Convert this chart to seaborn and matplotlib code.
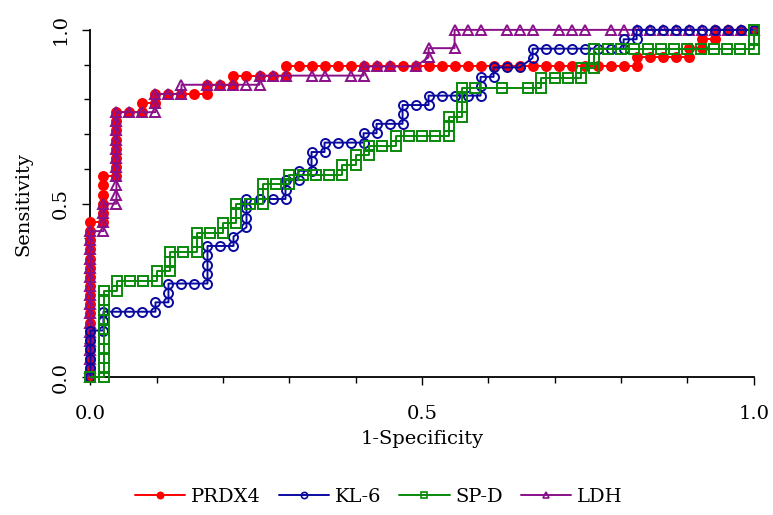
import matplotlib
matplotlib.use("Agg")
import matplotlib.pyplot as plt
from matplotlib.lines import Line2D
from matplotlib.ticker import MultipleLocator, FormatStrFormatter
import pandas as pd
import seaborn as sns

# ROC points, as (false positives, true positives) counts.
# each marker has its own number of negatives / positives
prdx4_n = (51, 38)
prdx4_pts = [(0, 0), (0, 1), (0, 2), (0, 3), (0, 4), (0, 5), (0, 6), (0, 7), (0, 8),
             (0, 9), (0, 10), (0, 11), (0, 12), (0, 13), (0, 14), (0, 15), (0, 16), (0, 17),
             (1, 17), (1, 18), (1, 19), (1, 20), (1, 21), (1, 22),
             (2, 22), (2, 23), (2, 24), (2, 25), (2, 26), (2, 27), (2, 28), (2, 29),
             (3, 29), (4, 29), (4, 30), (5, 30), (5, 31), (6, 31), (7, 31), (8, 31), (9, 31),
             (9, 32), (10, 32), (11, 32), (11, 33), (12, 33), (13, 33), (14, 33), (15, 33),
             (15, 34), (16, 34), (17, 34), (18, 34), (19, 34), (20, 34), (21, 34), (22, 34),
             (23, 34), (24, 34), (25, 34), (26, 34), (27, 34), (28, 34), (29, 34), (30, 34),
             (31, 34), (32, 34), (33, 34), (34, 34), (35, 34), (36, 34), (37, 34), (38, 34),
             (39, 34), (40, 34), (41, 34), (42, 34), (42, 35), (43, 35), (44, 35), (45, 35),
             (46, 35), (46, 36), (47, 36), (47, 37), (48, 37), (48, 38), (49, 38), (50, 38),
             (51, 38)]

kl6_n = (51, 37)
kl6_pts = [(0, 0), (0, 1), (0, 2), (0, 3), (0, 4), (0, 5), (1, 5), (1, 6), (1, 7),
           (2, 7), (3, 7), (4, 7), (5, 7), (5, 8), (6, 8), (6, 9), (6, 10), (7, 10), (8, 10),
           (9, 10), (9, 11), (9, 12), (9, 13), (9, 14), (10, 14), (11, 14), (11, 15), (12, 16),
           (12, 17), (12, 18), (12, 19), (13, 19), (14, 19), (15, 19), (15, 20), (15, 21),
           (16, 21), (16, 22), (17, 22), (17, 23), (17, 24), (18, 24), (18, 25), (19, 25),
           (20, 25), (21, 25), (21, 26), (22, 26), (22, 27), (23, 27), (24, 27), (24, 28),
           (24, 29), (25, 29), (26, 29), (26, 30), (27, 30), (28, 30), (29, 30), (30, 30),
           (30, 31), (30, 32), (31, 32), (31, 33), (32, 33), (33, 33), (34, 34), (34, 35),
           (35, 35), (36, 35), (37, 35), (38, 35), (39, 35), (40, 35), (41, 35), (41, 36),
           (42, 36), (42, 37), (43, 37), (44, 37), (45, 37), (46, 37), (47, 37), (48, 37),
           (49, 37), (50, 37), (51, 37)]

spd_n = (50, 36)
spd_pts = [(0, 0), (1, 0), (1, 1), (1, 2), (1, 3), (1, 4), (1, 5), (1, 6), (1, 7), (1, 8),
           (1, 9), (2, 9), (2, 10), (3, 10), (4, 10), (5, 10), (5, 11), (6, 11), (6, 12),
           (6, 13), (7, 13), (8, 13), (8, 14), (8, 15), (9, 15), (10, 15), (10, 16), (11, 16),
           (11, 17), (11, 18), (12, 18), (13, 18), (13, 19), (13, 20), (14, 20), (15, 20),
           (15, 21), (16, 21), (17, 21), (18, 21), (19, 21), (19, 22), (20, 22), (20, 23),
           (21, 23), (21, 24), (22, 24), (23, 24), (23, 25), (24, 25), (25, 25), (26, 25),
           (27, 25), (27, 26), (27, 27), (28, 27), (28, 28), (28, 29), (28, 30), (29, 30),
           (31, 30), (33, 30), (34, 30), (34, 31), (35, 31), (36, 31), (37, 31), (37, 32),
           (38, 32), (38, 33), (38, 34), (39, 34), (40, 34), (41, 34), (42, 34), (43, 34),
           (44, 34), (45, 34), (46, 34), (47, 34), (48, 34), (49, 34), (50, 34), (50, 35),
           (50, 36)]

ldh_n = (51, 38)
ldh_pts = [(0, 0), (0, 1), (0, 2), (0, 3), (0, 4), (0, 5), (0, 6), (0, 7), (0, 8), (0, 9),
           (0, 10), (0, 11), (0, 12), (0, 13), (0, 14), (0, 15), (0, 16),
           (1, 16), (1, 17), (1, 18), (1, 19),
           (2, 19), (2, 20), (2, 21), (2, 22), (2, 23), (2, 24), (2, 25), (2, 26), (2, 27),
           (2, 28), (2, 29), (3, 29), (4, 29), (5, 29), (5, 30), (5, 31), (6, 31), (7, 31),
           (7, 32), (9, 32), (10, 32), (11, 32), (12, 32), (13, 32), (13, 33), (14, 33),
           (15, 33), (17, 33), (18, 33), (20, 33), (21, 33), (21, 34), (22, 34), (23, 34),
           (25, 34), (26, 35), (26, 36), (28, 36), (28, 38), (29, 38), (30, 38), (32, 38),
           (33, 38), (34, 38), (36, 38), (37, 38), (38, 38), (40, 38), (41, 38), (42, 38),
           (43, 38), (44, 38), (45, 38), (46, 38), (47, 38), (48, 38), (49, 38), (50, 38),
           (51, 38)]

names = ["PRDX4", "KL-6", "SP-D", "LDH"]
colors = ["#ff0000", "#0a0aa0", "#0a8a0a", "#8a108a"]
markers = ["o", "o", "s", "^"]
filled = [True, False, False, False]
all_pts = [prdx4_pts, kl6_pts, spd_pts, ldh_pts]
all_n = [prdx4_n, kl6_n, spd_n, ldh_n]
zorders = [3, 5, 6, 4]

sns.set_style("white")
plt.rcParams["font.family"] = ["DejaVu Serif"]
plt.rcParams["font.size"] = 14
plt.rcParams["text.color"] = "black"
plt.rcParams["axes.labelcolor"] = "black"
plt.rcParams["xtick.color"] = "black"
plt.rcParams["ytick.color"] = "black"

fig = plt.figure(figsize=(7.73, 5.15), dpi=100)
ax = fig.add_axes([0.117, 0.267, 0.858, 0.675])

handles = []
for name, col, mk, fill, pts, n, z in zip(names, colors, markers, filled, all_pts, all_n, zorders):
    d = pd.DataFrame(pts, columns=["fp", "tp"])
    d["fpr"] = d["fp"] / n[0]
    d["tpr"] = d["tp"] / n[1]
    sns.lineplot(data=d, x="fpr", y="tpr", sort=False, estimator=None, ax=ax,
                 color=col, linewidth=1.4, marker=mk, markersize=6.5 if mk != "^" else 7,
                 markeredgecolor=col, markeredgewidth=1.4,
                 markerfacecolor=col if fill else "none",
                 zorder=z, clip_on=False, legend=False)
    handles.append(Line2D([0], [0], color=col, linewidth=1.4, marker=mk, markersize=4.5,
                          markeredgecolor=col, markeredgewidth=1.2,
                          markerfacecolor=col if fill else "none"))

ax.set_xlim(0, 1)
ax.set_ylim(0, 1)
ax.xaxis.set_major_locator(MultipleLocator(0.5))
ax.xaxis.set_minor_locator(MultipleLocator(0.1))
ax.yaxis.set_major_locator(MultipleLocator(0.5))
ax.yaxis.set_minor_locator(MultipleLocator(0.1))
ax.xaxis.set_major_formatter(FormatStrFormatter("%.1f"))
ax.yaxis.set_major_formatter(FormatStrFormatter("%.1f"))
ax.tick_params(which="major", direction="out", length=6, width=1, colors="black",
               labelsize=14, bottom=True, left=True)
ax.tick_params(which="minor", direction="out", length=4, width=1, colors="black",
               bottom=True, left=True)
ax.tick_params(axis="x", which="major", pad=14)
ax.tick_params(axis="y", which="major", pad=9)
for lab in ax.get_yticklabels():
    lab.set_rotation(90)
    lab.set_va("center")

sns.despine(ax=ax)
for s in ["left", "bottom"]:
    ax.spines[s].set_color("black")
    ax.spines[s].set_linewidth(1.3)

ax.set_xlabel("1-Specificity", fontsize=14)
ax.set_ylabel("Sensitivity", fontsize=14)
ax.xaxis.set_label_coords(0.5, -0.15)
ax.yaxis.set_label_coords(-0.088, 0.5)

fig.legend(handles, names, loc="center", bbox_to_anchor=(0.49, 0.035), ncol=4,
           frameon=False, fontsize=14, handlelength=2.6, handletextpad=0.3,
           columnspacing=0.9)

fig.savefig("out.png", dpi=100)
